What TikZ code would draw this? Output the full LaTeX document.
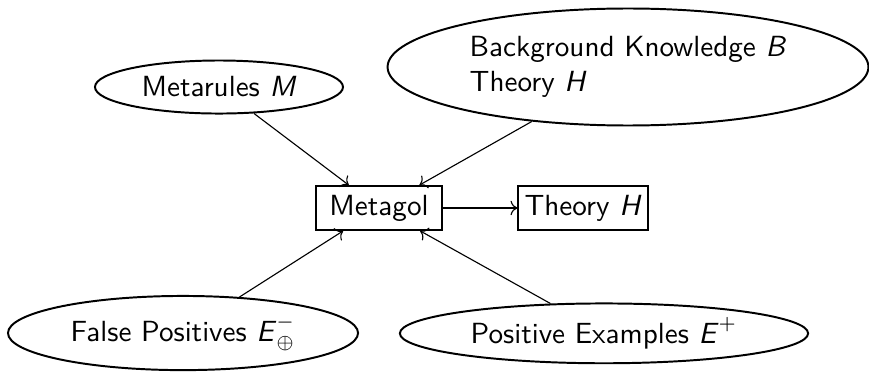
\documentclass[tikz,border=0pt]{standalone}
\usepackage{tikz}
\usetikzlibrary{shapes.geometric, arrows.meta, positioning}

\begin{document}
\begin{tikzpicture}[
    inputnode/.style={
        ellipse,
        draw,
        line width=0.7pt,
        inner sep=0pt,
        font=\sffamily\fontsize{10.4}{12.6}\selectfont,
        align=left
    },
    procnode/.style={
        rectangle,
        draw,
        line width=0.7pt,
        inner sep=0pt,
        minimum height=0.55cm,
        font=\sffamily\fontsize{10.4}{12.6}\selectfont
    },
    flow/.style={
        ->,
        thin
    }
]
\useasboundingbox (0,0) rectangle (10.897,-4.665);

% Central learner and its output
\node[procnode, minimum width=1.58cm] (metagol) at (4.753,-2.608) {Metagol};
\node[procnode, minimum width=1.62cm] (theory) at (7.311,-2.608) {Theory \textit{H}};

% Inputs above
\node[inputnode, minimum width=3.11cm, minimum height=0.665cm] (metarules) at (2.746,-1.091) {Metarules \textit{M}};
\node[inputnode, minimum width=6.03cm, minimum height=1.467cm] (background) at (7.875,-0.840) {Background Knowledge \textit{B}\\Theory \textit{H}};

% Inputs below
\node[inputnode, minimum width=4.39cm, minimum height=0.93cm] (falsepos) at (2.295,-4.176) {False Positives $\textsf{\textit{E}}^{-}_{\oplus}$};
\node[inputnode, minimum width=5.12cm, minimum height=0.75cm] (posex) at (7.574,-4.18) {Positive Examples $\textsf{\textit{E}}^{+}$};

% Connectors
\draw[flow] (metarules) -- (metagol);
\draw[flow] (background) -- (metagol);
\draw[flow] (falsepos) -- (metagol);
\draw[flow] (posex) -- (metagol);
\draw[flow] (metagol) -- (theory);

\end{tikzpicture}
\end{document}
